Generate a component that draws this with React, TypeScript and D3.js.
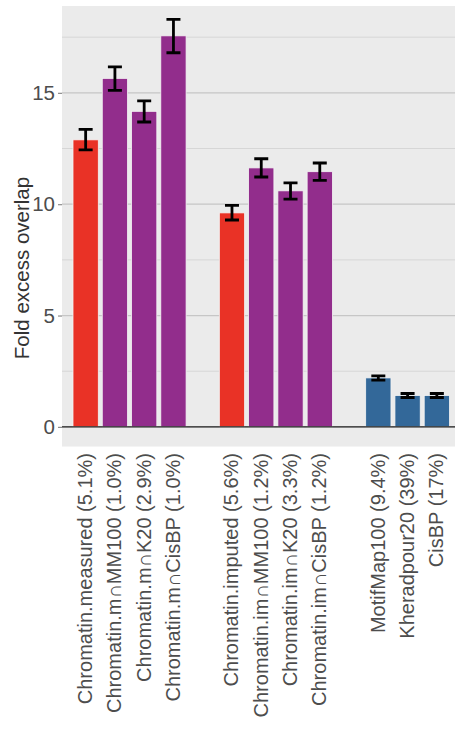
import { useEffect, useRef } from "react";
import * as d3 from "d3";

// bar labels, grouped the way they sit on the x axis
const measuredGroup = [
  "Chromatin.measured (5.1%)",
  "Chromatin.m∩MM100 (1.0%)",
  "Chromatin.m∩K20 (2.9%)",
  "Chromatin.m∩CisBP (1.0%)",
];
const imputedGroup = [
  "Chromatin.imputed (5.6%)",
  "Chromatin.im∩MM100 (1.2%)",
  "Chromatin.im∩K20 (3.3%)",
  "Chromatin.im∩CisBP (1.2%)",
];
const motifGroup = ["MotifMap100 (9.4%)", "Kheradpour20 (39%)", "CisBP (17%)"];

const labels = [...measuredGroup, ...imputedGroup, ...motifGroup];
const kinds = [
  "chromatin", "intersect", "intersect", "intersect",
  "chromatin", "intersect", "intersect", "intersect",
  "motif", "motif", "motif",
];
const values = [12.89, 15.65, 14.17, 17.56, 9.61, 11.63, 10.6, 11.46, 2.2, 1.41, 1.41];
const lower = [12.44, 15.11, 13.69, 16.8, 9.29, 11.22, 10.23, 11.07, 2.1, 1.32, 1.32];
const upper = [13.36, 16.17, 14.64, 18.3, 9.95, 12.04, 10.96, 11.85, 2.29, 1.5, 1.5];

const yTicks = [0, 5, 10, 15];
const yMinor = [2.5, 7.5, 12.5, 17.5];

const kindColor: Record<string, string> = {
  chromatin: "#e93226",
  intersect: "#922d8c",
  motif: "#336899",
};

export default function App() {
  const svgRef = useRef<SVGSVGElement>(null);
  const width = 455;
  const height = 732;

  useEffect(() => {
    if (!svgRef.current) return;
    const svg = d3.select(svgRef.current);
    svg.selectAll("*").remove();

    const font = "'Liberation Sans', Arial, sans-serif";
    const panel = { left: 62, top: 6, right: 455, bottom: 446.7 };

    // empty slots between the groups
    const slots = [...measuredGroup, "_gap1", ...imputedGroup, "_gap2", ...motifGroup];

    const x = d3
      .scaleBand()
      .domain(slots)
      .range([panel.left, 460.5])
      .paddingInner(0.136)
      .paddingOuter(0.376);

    const y = d3
      .scaleLinear()
      .domain([-0.89, 18.9])
      .range([panel.bottom, panel.top]);

    svg
      .append("defs")
      .append("clipPath")
      .attr("id", "panel-clip")
      .append("rect")
      .attr("x", panel.left)
      .attr("y", panel.top)
      .attr("width", panel.right - panel.left)
      .attr("height", panel.bottom - panel.top);

    const g = svg.append("g").attr("clip-path", "url(#panel-clip)");

    g.append("rect")
      .attr("x", panel.left)
      .attr("y", panel.top)
      .attr("width", panel.right - panel.left)
      .attr("height", panel.bottom - panel.top)
      .attr("fill", "#ebebeb");

    // 网格
    g.selectAll(".minor")
      .data(yMinor)
      .enter()
      .append("line")
      .attr("x1", panel.left)
      .attr("x2", panel.right)
      .attr("y1", (d) => y(d))
      .attr("y2", (d) => y(d))
      .attr("stroke", "#d6d6d6")
      .attr("stroke-width", 1);

    g.selectAll(".major")
      .data(yTicks)
      .enter()
      .append("line")
      .attr("x1", panel.left)
      .attr("x2", panel.right)
      .attr("y1", (d) => y(d))
      .attr("y2", (d) => y(d))
      .attr("stroke", "#c6c6c6")
      .attr("stroke-width", 1.2);

    // 柱子
    g.selectAll(".bar")
      .data(labels)
      .enter()
      .append("rect")
      .attr("x", (d) => x(d) || 0)
      .attr("width", x.bandwidth())
      .attr("y", (_d, i) => y(values[i]))
      .attr("height", (_d, i) => y(0) - y(values[i]))
      .attr("fill", (_d, i) => kindColor[kinds[i]])
      .attr("stroke", "#f4f4f4")
      .attr("stroke-width", 0.8);

    // zero line
    g.append("line")
      .attr("x1", panel.left)
      .attr("x2", panel.right)
      .attr("y1", y(0))
      .attr("y2", y(0))
      .attr("stroke", "#222")
      .attr("stroke-width", 1.4);

    // error bars
    const capW = 14;
    const eb = g
      .selectAll(".err")
      .data(labels)
      .enter()
      .append("g")
      .attr("stroke", "#000")
      .attr("stroke-width", 2.8)
      .attr("fill", "none");
    eb.append("line")
      .attr("x1", (d) => (x(d) || 0) + x.bandwidth() / 2)
      .attr("x2", (d) => (x(d) || 0) + x.bandwidth() / 2)
      .attr("y1", (_d, i) => y(lower[i]))
      .attr("y2", (_d, i) => y(upper[i]));
    eb.append("line")
      .attr("x1", (d) => (x(d) || 0) + x.bandwidth() / 2 - capW / 2)
      .attr("x2", (d) => (x(d) || 0) + x.bandwidth() / 2 + capW / 2)
      .attr("y1", (_d, i) => y(lower[i]))
      .attr("y2", (_d, i) => y(lower[i]));
    eb.append("line")
      .attr("x1", (d) => (x(d) || 0) + x.bandwidth() / 2 - capW / 2)
      .attr("x2", (d) => (x(d) || 0) + x.bandwidth() / 2 + capW / 2)
      .attr("y1", (_d, i) => y(upper[i]))
      .attr("y2", (_d, i) => y(upper[i]));

    // Y 轴
    const yAxis = svg
      .append("g")
      .attr("transform", `translate(${panel.left},0)`)
      .call(d3.axisLeft(y).tickValues(yTicks).tickSize(4).tickPadding(3).tickFormat(d3.format("d")));
    yAxis.select(".domain").remove();
    yAxis.selectAll(".tick line").attr("stroke", "#8c8c8c").attr("stroke-width", 1.2);
    yAxis
      .selectAll(".tick text")
      .attr("fill", "#4d4d4d")
      .style("font-family", font)
      .style("font-size", "20.5px");

    svg
      .append("text")
      .attr("transform", `translate(29,268) rotate(-90)`)
      .attr("text-anchor", "middle")
      .attr("fill", "#333")
      .style("font-family", font)
      .style("font-size", "20.5px")
      .text("Fold excess overlap");

    // X 轴 labels
    svg
      .selectAll(".xlab")
      .data(labels)
      .enter()
      .append("text")
      .attr(
        "transform",
        (d) => `translate(${(x(d) || 0) + x.bandwidth() / 2 + 6.5},453) rotate(-90)`,
      )
      .attr("text-anchor", "end")
      .attr("fill", "#4d4d4d")
      .style("font-family", font)
      .style("font-size", "20px")
      .text((d) => d);
  }, []);

  return (
    <div style={{ position: "absolute", left: 0, top: 0 }}>
      <svg
        ref={svgRef}
        width={width}
        height={height}
        viewBox={`0 0 ${width} ${height}`}
        style={{ display: "block", background: "#fff" }}
      />
    </div>
  );
}
